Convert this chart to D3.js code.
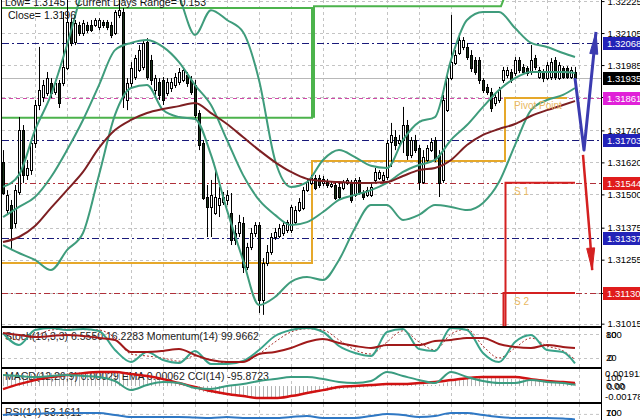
<!DOCTYPE html>
<html><head><meta charset="utf-8">
<script src="https://cdn.jsdelivr.net/npm/d3@7"></script>
<style>html,body{margin:0;padding:0;background:#fff;}svg{display:block;font-family:"Liberation Sans",Arial,sans-serif;}</style>
</head><body><svg id="c" width="640" height="420"></svg>
<script>
// ---------- DATA ----------
const open=[1.31621,1.31441,1.31460,1.31393,1.31509,1.31741,1.31573,1.31591,1.31693,1.31835,
1.31865,1.31880,1.31918,1.31884,1.31918,1.31918,1.31974,1.32147,1.32071,1.32135,
1.32105,1.32135,1.32135,1.32135,1.32128,1.32147,1.32147,1.32135,1.32105,1.32173,
1.32184,1.31854,1.31918,1.31940,1.31966,1.31978,1.32071,1.32004,1.31891,1.31921,
1.31929,1.31880,1.31899,1.31910,1.31921,1.31929,1.31948,1.31929,1.31910,1.31805,
1.31693,1.31490,1.31453,1.31430,1.31460,1.31471,1.31479,1.31430,1.31355,1.31355,
1.31393,1.31228,1.31303,1.31355,1.31385,1.31104,1.31243,1.31284,1.31340,1.31344,
1.31355,1.31366,1.31366,1.31396,1.31441,1.31449,1.31516,1.31543,1.31561,1.31561,
1.31543,1.31546,1.31531,1.31535,1.31528,1.31524,1.31543,1.31543,1.31498,1.31554,
1.31509,1.31498,1.31498,1.31554,1.31561,1.31554,1.31565,1.31696,1.31715,1.31693,
1.31704,1.31760,1.31648,1.31704,1.31674,1.31546,1.31629,1.31666,1.31704,1.31648,
1.31554,1.31816,1.31936,1.31993,1.32030,1.32053,1.32053,1.32023,1.32004,1.32004,
1.31929,1.31903,1.31884,1.31843,1.31854,1.31929,1.31948,1.31959,1.31955,1.32004,
1.31978,1.31974,1.31959,1.32011,1.31940,1.31959,1.31936,1.31940,1.32004,1.31936,
1.31974,1.31974,1.31940,1.31959];
const high=[1.31666,1.31516,1.31479,1.31535,1.31790,1.31760,1.31629,1.31711,1.31854,1.32053,
1.31929,1.31959,1.31936,1.31929,1.31929,1.32184,1.32229,1.32161,1.32154,1.32147,
1.32154,1.32147,1.32154,1.32161,1.32161,1.32154,1.32154,1.32147,1.32191,1.32229,
1.32199,1.31936,1.31996,1.32023,1.32060,1.32079,1.32086,1.32023,1.31948,1.31936,
1.31940,1.31936,1.31936,1.31955,1.31974,1.31974,1.31959,1.31944,1.31929,1.31816,
1.31704,1.31535,1.31554,1.31591,1.31528,1.31509,1.31516,1.31505,1.31385,1.31423,
1.31415,1.31318,1.31374,1.31396,1.31396,1.31261,1.31310,1.31355,1.31374,1.31389,
1.31396,1.31404,1.31460,1.31456,1.31486,1.31528,1.31561,1.31573,1.31573,1.31573,
1.31569,1.31558,1.31550,1.31546,1.31543,1.31554,1.31561,1.31554,1.31561,1.31565,
1.31516,1.31528,1.31543,1.31599,1.31591,1.31584,1.31704,1.31768,1.31741,1.31723,
1.31828,1.31779,1.31715,1.31723,1.31685,1.31666,1.31685,1.31711,1.31715,1.31666,
1.31873,1.31948,1.32173,1.32041,1.32105,1.32090,1.32068,1.32041,1.32015,1.32015,
1.31936,1.31914,1.31899,1.31876,1.31903,1.31978,1.31978,1.31970,1.32015,1.32015,
1.31989,1.31981,1.32060,1.32023,1.31978,1.31970,1.31996,1.32011,1.32015,1.31996,
1.31981,1.31981,1.31978,1.31978];
const low=[1.31498,1.31423,1.31291,1.31374,1.31498,1.31543,1.31554,1.31573,1.31674,1.31816,
1.31846,1.31869,1.31861,1.31873,1.31824,1.31906,1.31966,1.32056,1.32060,1.32094,
1.32094,1.32105,1.32109,1.32128,1.32116,1.32124,1.32116,1.32086,1.32098,1.32161,
1.31824,1.31816,1.31899,1.31929,1.31959,1.31966,1.31929,1.31910,1.31873,1.31854,
1.31835,1.31869,1.31884,1.31899,1.31910,1.31921,1.31903,1.31873,1.31779,1.31666,
1.31479,1.31340,1.31340,1.31423,1.31415,1.31460,1.31460,1.31310,1.31310,1.31340,
1.31205,1.31216,1.31291,1.31340,1.31055,1.31048,1.31231,1.31273,1.31329,1.31336,
1.31344,1.31355,1.31355,1.31389,1.31434,1.31441,1.31509,1.31535,1.31516,1.31524,
1.31531,1.31524,1.31524,1.31479,1.31479,1.31516,1.31535,1.31468,1.31490,1.31498,
1.31479,1.31490,1.31490,1.31546,1.31554,1.31546,1.31554,1.31603,1.31666,1.31678,
1.31655,1.31629,1.31636,1.31655,1.31516,1.31539,1.31621,1.31659,1.31621,1.31490,
1.31543,1.31809,1.31929,1.31985,1.32023,1.32041,1.32004,1.31959,1.31948,1.31914,
1.31880,1.31873,1.31809,1.31831,1.31843,1.31918,1.31936,1.31918,1.31944,1.31955,
1.31948,1.31944,1.31948,1.31966,1.31933,1.31921,1.31929,1.31929,1.31929,1.31929,
1.31933,1.31933,1.31933,1.31929];
const close=[1.31505,1.31498,1.31374,1.31516,1.31741,1.31573,1.31599,1.31693,1.31835,1.31891,
1.31910,1.31936,1.31880,1.31918,1.31843,1.31978,1.32147,1.32068,1.32143,1.32105,
1.32143,1.32116,1.32116,1.32154,1.32154,1.32135,1.32128,1.32098,1.32184,1.32191,
1.31865,1.31918,1.31974,1.32011,1.32041,1.32068,1.31940,1.31929,1.31936,1.31873,
1.31854,1.31921,1.31921,1.31940,1.31959,1.31966,1.31918,1.31884,1.31798,1.31685,
1.31486,1.31453,1.31498,1.31490,1.31486,1.31490,1.31498,1.31329,1.31329,1.31396,
1.31228,1.31303,1.31355,1.31385,1.31104,1.31243,1.31284,1.31340,1.31359,1.31374,
1.31385,1.31396,1.31453,1.31441,1.31471,1.31516,1.31546,1.31561,1.31524,1.31535,
1.31558,1.31535,1.31539,1.31486,1.31490,1.31546,1.31554,1.31479,1.31554,1.31509,
1.31490,1.31516,1.31528,1.31584,1.31584,1.31573,1.31693,1.31723,1.31685,1.31704,
1.31760,1.31648,1.31704,1.31666,1.31546,1.31640,1.31674,1.31696,1.31636,1.31543,
1.31854,1.31936,1.31996,1.32023,1.32079,1.32079,1.32015,1.31974,1.31959,1.31929,
1.31891,1.31884,1.31824,1.31865,1.31891,1.31966,1.31966,1.31929,1.32004,1.31966,
1.31959,1.31955,1.32004,1.31978,1.31966,1.31936,1.31985,1.31996,1.31940,1.31985,
1.31940,1.31940,1.31966,1.31935];

// indicator samples at candle indices 0,4,8,...,140 and 143
const bbUpper=[1.31528,1.31573,1.31741,1.31873,1.32060,1.32267,1.32379,1.32398,1.32379,1.32360,
1.32323,1.32240,1.32098,1.32191,1.32154,1.32109,1.31929,1.31629,1.31528,1.31546,
1.31629,1.31666,1.31640,1.31607,1.31599,1.31704,1.31771,1.31790,1.32004,1.32154,
1.32184,1.32184,1.32124,1.32068,1.32053,1.32030,1.32015];
const bbMiddle=[1.31415,1.31453,1.31490,1.31565,1.31666,1.31779,1.31910,1.32041,1.32068,1.32079,
1.32053,1.31996,1.31910,1.31835,1.31704,1.31573,1.31479,1.31423,1.31385,1.31396,
1.31434,1.31479,1.31498,1.31516,1.31543,1.31584,1.31610,1.31629,1.31704,1.31760,
1.31828,1.31891,1.31936,1.31959,1.31959,1.31959,1.31955];
const bbLower=[1.31310,1.31280,1.31254,1.31216,1.31291,1.31355,1.31573,1.31798,1.31899,1.31910,
1.31816,1.31790,1.31783,1.31648,1.31441,1.31254,1.31085,1.31115,1.31172,1.31190,
1.31179,1.31254,1.31374,1.31460,1.31460,1.31404,1.31423,1.31460,1.31453,1.31441,
1.31468,1.31546,1.31685,1.31816,1.31854,1.31873,1.31899];
const maSlow=[1.31321,1.31340,1.31381,1.31449,1.31516,1.31584,1.31674,1.31741,1.31779,1.31805,
1.31820,1.31831,1.31843,1.31805,1.31764,1.31715,1.31666,1.31621,1.31584,1.31558,
1.31550,1.31546,1.31543,1.31543,1.31546,1.31569,1.31591,1.31599,1.31629,1.31685,
1.31723,1.31745,1.31764,1.31794,1.31816,1.31835,1.31850];
const stochMain=[82.5,52.5,90,95,90,92.5,87.5,40,10,35,15,7.5,37.5,5,5,12.5,40,75,90,95,
85,50,32.5,25,85,92.5,42.5,37.5,95,90,32.5,10,60,77.5,40,35,6.555];
const stochSignal=[80,65,75,90,92,91,90,70,30,25,20,12,25,15,8,10,30,60,85,93,
90,65,40,30,60,88,60,40,80,92,50,20,45,70,50,38,16.2283];
const momentum=[100.135,100.112,100.090,100.101,100.112,100.101,100.079,100.056,99.921,99.921,
99.933,99.955,99.888,99.831,99.809,99.809,99.899,99.921,99.966,100.034,
100.067,100.022,99.989,99.966,100.000,100.000,100.000,100.045,100.056,100.079,
100.079,100.011,99.978,99.966,100.000,99.978,99.9662];
const macdSignal=[-0.00034,0.00022,0.00067,0.00101,0.00123,0.00145,0.00157,0.00157,0.00134,0.00112,
0.00078,0.00034,-0.00011,-0.00056,-0.00089,-0.00112,-0.00134,-0.00134,-0.00112,-0.00078,
-0.00045,-0.00011,0.00000,0.00011,0.00022,0.00022,0.00034,0.00045,0.00067,0.00089,
0.00101,0.00101,0.00101,0.00078,0.00056,0.00045,0.00034];
const cci=[100,80,60,80,100,80,60,-20,-200,-100,-40,-60,-160,-180,-120,-80,-20,20,60,60,
20,-40,-60,-20,160,80,0,-60,160,60,-20,-60,-60,0,-40,-60,-95.8723];
const rsi=[66.7,69.7,69.7,72.7,72.7,72.7,72.7,66.7,60.6,60.6,60.6,60.6,59,57.6,60.6,57.6,57.6,57.6,60.6,63.6,
57.6,57.6,57.6,63.6,69.7,66.7,60.6,63.6,72.7,72.7,66.7,60.6,57.6,57.6,57.6,56,53.1611];
// MACD histogram, one bar per candle
const macdHist=[0.00110,0.00113,0.00117,0.00120,0.00124,0.00127,0.00131,0.00133,0.00135,0.00138,
0.00141,0.00143,0.00146,0.00147,0.00146,0.00145,0.00145,0.00148,0.00152,0.00155,
0.00157,0.00158,0.00157,0.00158,0.00157,0.00156,0.00154,0.00150,0.00146,0.00140,
0.00133,0.00127,0.00123,0.00118,0.00112,0.00106,0.00101,0.00093,0.00084,0.00076,
0.00067,0.00057,0.00046,0.00034,0.00022,0.00008,-0.00008,-0.00025,-0.00045,-0.00057,
-0.00066,-0.00072,-0.00078,-0.00085,-0.00091,-0.00096,-0.00101,-0.00104,-0.00107,-0.00110,
-0.00112,-0.00115,-0.00118,-0.00120,-0.00123,-0.00125,-0.00126,-0.00125,-0.00123,-0.00121,
-0.00118,-0.00115,-0.00112,-0.00107,-0.00101,-0.00095,-0.00089,-0.00080,-0.00072,-0.00064,
-0.00056,-0.00050,-0.00044,-0.00038,-0.00034,-0.00031,-0.00028,-0.00025,-0.00022,-0.00019,
-0.00016,-0.00013,-0.00011,-0.00006,-0.00001,0.00005,0.00011,0.00014,0.00017,0.00020,
0.00022,0.00023,0.00022,0.00022,0.00022,0.00020,0.00016,0.00013,0.00011,0.00018,
0.00030,0.00042,0.00056,0.00066,0.00075,0.00083,0.00089,0.00093,0.00097,0.00099,
0.00101,0.00099,0.00096,0.00093,0.00089,0.00086,0.00083,0.00080,0.00078,0.00075,
0.00072,0.00069,0.00067,0.00064,0.00061,0.00058,0.00056,0.00053,0.00050,0.00047,
0.00045,0.00041,0.00037,0.00034];

const priceTicks=[1.32225,1.32105,1.31985,1.31865,1.31740,1.31620,1.31500,1.31375,1.31255,1.31130,1.31015];
const navyLevels=[1.32068,1.31703,1.31337];
const pivotLine=1.31861;
const supportLevels=[1.31544,1.31130];
const bidPrice=1.31935;
const prevDayHigh=1.32199, prevDayLow=1.31787, curDayHigh=1.32206, curDayBreakHigh=1.32245;
const dayBreaks=[77.25,125.5];
const pivotSteps=[1.31243,1.31625,1.31861];
const pivotLabels=["Pivot Point","S 1","S 2"];
const forecastUp=[[143,1.31936],[145.25,1.31666],[148.25,1.32109]];
const forecastDown=[[145,1.31648],[146.75,1.31336],[147.3,1.31216]];
const priceBoxes=[[1.32068,"blue"],[1.31935,"bid"],[1.31861,"pivot"],[1.31703,"blue"],[1.31544,"sup"],[1.31337,"blue"],[1.31130,"sup"]];
const headerTexts=["Low= 1.3145","Current Days Range= 0.153","Close= 1.3196"];
const p1Text="Stoch(10,3,3) 6.5550 16.2283  Momentum(14) 99.9662";
const p2Text="MACD(12,26,9) 0.00029 EMA 0.00062  CCI(14) -95.8723";
const p3Text="RSI(14) 53.1611";

// ---------- DRAW ----------
const svg=d3.select("#c");
const L=2,R=601;
const x=d3.scaleLinear().domain([0,143]).range([3,575]);
const y=d3.scaleLinear().domain([1.31010,1.32229]).range([325,0]);
const idx=d3.range(0,144,4).concat([143]);
const panels={main:[0,326],p1:[328,367],p2:[369,402],p3:[404,440]};
const defs=svg.append("defs");
Object.entries(panels).forEach(([k,[t,b]])=>{
  defs.append("clipPath").attr("id","clip-"+k).append("rect").attr("x",L).attr("y",t).attr("width",R-L).attr("height",b-t);
});
const gridC="#c4c4c4";
// vertical grid in all panels
Object.entries(panels).forEach(([k,[t,b]])=>{
  svg.append("g").selectAll("line").data(d3.range(8,145,8)).join("line")
    .attr("x1",d=>Math.round(x(d))+0.5).attr("x2",d=>Math.round(x(d))+0.5)
    .attr("y1",t).attr("y2",b).attr("stroke",gridC).attr("stroke-dasharray","3,3");
});
const main=svg.append("g").attr("clip-path","url(#clip-main)");
main.selectAll("line.hg").data(priceTicks).join("line").attr("class","hg")
  .attr("x1",L).attr("x2",R).attr("y1",d=>Math.round(y(d))+0.5).attr("y2",d=>Math.round(y(d))+0.5)
  .attr("stroke",gridC).attr("stroke-dasharray","3,3");

// level lines
main.selectAll("line.nv").data(navyLevels).join("line").attr("class","nv")
  .attr("x1",L).attr("x2",R).attr("y1",d=>Math.round(y(d))+0.5).attr("y2",d=>Math.round(y(d))+0.5)
  .attr("stroke","#1a1a7a").attr("stroke-dasharray","7,3,2,3");
main.append("line").attr("x1",L).attr("x2",R).attr("y1",Math.round(y(pivotLine))+0.5).attr("y2",Math.round(y(pivotLine))+0.5)
  .attr("stroke","#d04aa8").attr("stroke-dasharray","4,3");
main.selectAll("line.sp").data(supportLevels).join("line").attr("class","sp")
  .attr("x1",L).attr("x2",R).attr("y1",d=>Math.round(y(d))+0.5).attr("y2",d=>Math.round(y(d))+0.5)
  .attr("stroke","#b0303a").attr("stroke-dasharray","6,3,2,3");
main.append("line").attr("x1",L).attr("x2",R).attr("y1",Math.round(y(bidPrice))+0.5).attr("y2",Math.round(y(bidPrice))+0.5)
  .attr("stroke","#b8b8b8");

// day high/low (green)
const green="#4cb34c";
const xb0=x(dayBreaks[0]), xb1=x(dayBreaks[1]);
main.append("path").attr("fill","none").attr("stroke",green).attr("stroke-width",2)
  .attr("d",`M${L},${y(prevDayHigh)}H${xb0}V${y(prevDayLow)}H${L}`);
main.append("path").attr("fill","none").attr("stroke",green).attr("stroke-width",2)
  .attr("d",`M${xb0+2},${y(prevDayLow)}V${y(curDayHigh)}H${xb1-4}L${xb1},${y(curDayBreakHigh)}`);
// pivot steps (orange)
main.append("path").attr("fill","none").attr("stroke","#e6a82a").attr("stroke-width",2)
  .attr("d",`M${L},${y(pivotSteps[0])}H${xb0}V${y(pivotSteps[1])}H${xb1}V${y(pivotSteps[2])}H${x(141)}`);
// supports (red)
supportLevels.forEach((v,k)=>{
  const xs=xb1+(k===0?0.5:-1.5);
  main.append("path").attr("fill","none").attr("stroke","#d42020").attr("stroke-width",2)
    .attr("d",`M${xs},${y(1.3095)}V${y(v)}H${x(143)}`);
});

// candles
const cg=main.append("g");
d3.range(open.length).forEach(i=>{
  const cx=Math.round(x(i));
  cg.append("line").attr("x1",cx+0.5).attr("x2",cx+0.5).attr("y1",y(high[i])).attr("y2",y(low[i])).attr("stroke","#000");
  const yo=y(open[i]), yc=y(close[i]);
  const top=Math.round(Math.min(yo,yc)), h=Math.max(1,Math.round(Math.abs(yo-yc)));
  cg.append("rect").attr("x",cx-1+0.5).attr("y",top+0.5).attr("width",2).attr("height",h)
    .attr("fill",close[i]>=open[i]?"#fff":"#183018").attr("stroke","#000");
});

// indicators on main
const lineIdx=d3.line().x((d,k)=>x(idx[k])).curve(d3.curveMonotoneX);
const teal="#3f9c7c";
[bbUpper,bbMiddle,bbLower].forEach(arr=>{
  main.append("path").attr("fill","none").attr("stroke",teal).attr("stroke-width",2)
    .attr("d",lineIdx.y(d=>y(d))(arr));
});
main.append("path").attr("fill","none").attr("stroke","#7d1f22").attr("stroke-width",2)
  .attr("d",lineIdx.y(d=>y(d))(maSlow));

// labels for pivot / supports
const lblC="#e9b862";
main.append("text").attr("x",x(127)+3).attr("y",y(pivotSteps[2])+11).attr("font-size",10).attr("fill",lblC).text(pivotLabels[0]);
supportLevels.forEach((v,k)=>main.append("text").attr("x",x(127)+3).attr("y",y(v)+12).attr("font-size",10).attr("fill",lblC).text(pivotLabels[k+1]));

// forecast zigzags
function arrow(pts,color,w){
  const pp=pts.map(p=>[x(p[0]),y(p[1])]);
  main.append("path").attr("fill","none").attr("stroke",color).attr("stroke-width",w).attr("stroke-linejoin","round")
    .attr("d",d3.line()(pp));
  const a=pp[pp.length-1], b=pp[pp.length-2];
  const dx=a[0]-b[0], dy=a[1]-b[1], len=Math.hypot(dx,dy), ux=dx/len, uy=dy/len;
  const bx=a[0]-ux*22, by=a[1]-uy*22;
  main.append("path").attr("fill",color).attr("stroke",color)
    .attr("d",`M${a[0]},${a[1]}L${bx-uy*4},${by+ux*4}L${bx+uy*4},${by-ux*4}Z`);
}
arrow(forecastUp,"#3b3bb0",3);
arrow(forecastDown,"#d42020",2.5);

// header text
const hd=svg.append("g").attr("font-size",10.5).attr("fill","#111");
hd.append("text").attr("x",5).attr("y",6).text(headerTexts[0]);
hd.append("text").attr("x",75).attr("y",6).text(headerTexts[1]);
hd.append("text").attr("x",8).attr("y",19).text(headerTexts[2]);

// axis
const ax=svg.append("g").attr("transform",`translate(${R+0.5},0)`)
  .call(d3.axisRight(y).tickValues(priceTicks).tickSize(3).tickFormat(d3.format(".5f")));
ax.select(".domain").remove();
ax.selectAll("text").attr("font-size",9.5).attr("font-family","Liberation Sans, Arial").attr("fill","#000").attr("x",6);
const boxC={blue:"#2323b8",bid:"#000",pivot:"#e021d8",sup:"#e01c1c"};
priceBoxes.forEach(([v,t])=>{
  const yy=y(v);
  svg.append("rect").attr("x",R+2).attr("y",Math.round(yy)-6).attr("width",38).attr("height",13).attr("fill",boxC[t]);
  svg.append("text").attr("x",R+6).attr("y",Math.round(yy)+4).attr("font-size",9.5).attr("fill","#fff").text(d3.format(".5f")(v));
});

// ---------- sub panels ----------
// panel 1: stoch + momentum
const g1=svg.append("g").attr("clip-path","url(#clip-p1)");
[334,358].forEach(v=>g1.append("line").attr("x1",L).attr("x2",R).attr("y1",v+0.5).attr("y2",v+0.5).attr("stroke",gridC).attr("stroke-dasharray","3,3"));
g1.append("text").attr("x",5).attr("y",340).attr("font-size",10.5).attr("fill","#222").text(p1Text);
const sY=d3.scaleLinear().domain([0,100]).range([366,326]);
const mY=d3.scaleLinear().domain([99.8,100.2]).range([362.8,327.2]);
g1.append("path").attr("fill","none").attr("stroke","#a8332f").attr("stroke-width",1).attr("stroke-dasharray","2,2")
  .attr("d",lineIdx.y(d=>sY(d))(stochSignal));
g1.append("path").attr("fill","none").attr("stroke","#3aa38a").attr("stroke-width",2)
  .attr("d",lineIdx.y(d=>sY(d))(stochMain));
g1.append("path").attr("fill","none").attr("stroke","#a01a1a").attr("stroke-width",2)
  .attr("d",lineIdx.y(d=>mY(d))(momentum));

// panel 2: macd + cci
const g2=svg.append("g").attr("clip-path","url(#clip-p2)");
const macdY=d3.scaleLinear().domain([-0.00178,0.001912]).range([402,369]);
const cciY=d3.scaleLinear().domain([-200,200]).range([390,370]);
g2.selectAll("line.h").data(macdHist).join("line").attr("class","h")
  .attr("x1",(d,i)=>Math.round(x(i))+0.5).attr("x2",(d,i)=>Math.round(x(i))+0.5)
  .attr("y1",macdY(0)).attr("y2",d=>macdY(d)).attr("stroke","#b4b4b4").attr("stroke-width",1);
g2.append("text").attr("x",5).attr("y",380).attr("font-size",10.5).attr("fill","#222").text(p2Text);
g2.append("path").attr("fill","none").attr("stroke","#d01212").attr("stroke-width",2.5)
  .attr("d",lineIdx.y(d=>macdY(d))(macdSignal));
g2.append("path").attr("fill","none").attr("stroke","#3a9c80").attr("stroke-width",2)
  .attr("d",lineIdx.y(d=>cciY(d))(cci));

// panel 3: rsi
const g3=svg.append("g").attr("clip-path","url(#clip-p3)");
const rY=d3.scaleLinear().domain([0,100]).range([437,404]);
g3.append("line").attr("x1",L).attr("x2",R).attr("y1",rY(70)+0.5).attr("y2",rY(70)+0.5).attr("stroke",gridC).attr("stroke-dasharray","3,3");
g3.append("text").attr("x",5).attr("y",416).attr("font-size",10.5).attr("fill","#222").text(p3Text);
g3.append("path").attr("fill","none").attr("stroke","#2f78c4").attr("stroke-width",2)
  .attr("d",lineIdx.y(d=>rY(d))(rsi));

// sub-panel right labels
const sl=svg.append("g").attr("font-size",9.5).attr("fill","#000");
[["100",606,338],["80",606,338],["20",606,361],["0",608,361],
 ["0.001912",605,377],["100",606,381],["0.00",606,389],["0.00",607,390],["-0.00178",605,400],
 ["100",606,416],["70",606,416]].forEach(([t,xx,yy])=>sl.append("text").attr("x",xx).attr("y",yy).text(t));

// borders
const bd=svg.append("g").attr("stroke","#000").attr("fill","none");
bd.append("line").attr("x1",1.5).attr("x2",1.5).attr("y1",0).attr("y2",420);
bd.append("line").attr("x1",R+0.5).attr("x2",R+0.5).attr("y1",0).attr("y2",420);
[[326,328],[367,369],[402,404]].forEach(([a,b])=>{
  svg.append("rect").attr("x",1).attr("y",a).attr("width",R).attr("height",b-a).attr("fill","#000");
});
</script></body></html>
